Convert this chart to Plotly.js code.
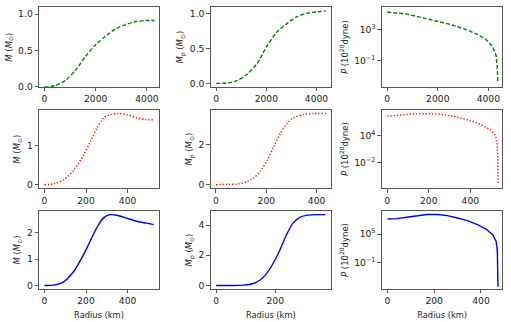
<!DOCTYPE html>
<html>
<head>
<meta charset="utf-8">
<script src="https://cdn.plot.ly/plotly-3.0.1.min.js"></script>
<style>
  html, body { margin: 0; padding: 0; background: #fff; }
  #plot { width: 511px; height: 322px; }
</style>
</head>
<body>
<div id="plot"></div>
<script>
// ---- row 1 : green dashed ----
var r1M = [0, 421, 816, 1210, 1605, 2000, 2394, 2789, 3184, 3578, 3973, 4300];
var m1 = [0, 0.02, 0.09, 0.23, 0.42, 0.58, 0.70, 0.80, 0.857, 0.90, 0.913, 0.913];
var r1Mp = [0, 436, 832, 1228, 1624, 2020, 2416, 2812, 3208, 3604, 4000, 4370];
var mp1 = [0, 0.005, 0.04, 0.13, 0.28, 0.53, 0.73, 0.85, 0.95, 1.0, 1.02, 1.035];
var r1P = [0, 374, 773, 1173, 1573, 1973, 2373, 2773, 3173, 3573, 3906, 4173, 4306, 4360, 4373];
var p1 = [1.66e5, 1.35e5, 9.1e4, 4.5e4, 2.2e4, 1.23e4, 5.5e3, 2.2e3, 810, 224, 50, 5.5, 0.45, 8.3e-3, 1.5e-4];

// ---- row 2 : red dotted ----
var r2M = [0, 45, 93, 141, 189, 221, 253, 285, 317, 357, 397, 445, 493, 525];
var m2 = [0, 0.026, 0.13, 0.37, 0.76, 1.1, 1.45, 1.71, 1.79, 1.82, 1.79, 1.71, 1.66, 1.66];
var r2Mp = [0, 44, 83, 123, 150, 176, 203, 229, 255, 282, 308, 348, 387, 437];
var mp2 = [0, 0.02, 0.03, 0.15, 0.34, 0.67, 1.21, 1.88, 2.55, 3.06, 3.34, 3.5, 3.55, 3.55];
var r2P = [0, 60, 124, 189, 254, 319, 383, 448, 497, 521, 529, 532, 534];
var p2 = [1.5e8, 2.5e8, 4.8e8, 5.6e8, 4e8, 1.5e8, 2.75e7, 2.6e6, 1.7e5, 1e4, 160, 0.19, 1.8e-7];

// ---- row 3 : blue solid ----
var r3M = [0, 43, 91, 139, 187, 219, 251, 283, 315, 347, 395, 443, 491, 525];
var m3 = [0, 0.01, 0.13, 0.51, 1.15, 1.67, 2.18, 2.56, 2.69, 2.67, 2.56, 2.44, 2.37, 2.31];
var r3Mp = [0, 48, 93, 126, 149, 171, 193, 216, 238, 260, 283, 305, 339, 370];
var mp3 = [0, 0, 0.02, 0.13, 0.36, 0.8, 1.47, 2.36, 3.36, 4.13, 4.51, 4.64, 4.69, 4.69];
var r3P = [0, 40, 83, 126, 169, 213, 256, 299, 342, 385, 421, 450, 465, 470, 472, 472.5];
var p3 = [1.5e8, 1.8e8, 3.4e8, 7.6e8, 1.26e9, 1.26e9, 7.6e8, 2.45e8, 6.6e7, 9.5e6, 1.15e6, 7.2e4, 2.8e3, 21, 6.3e-3, 8.1e-7];

var green = {color: '#008000', width: 1.4, dash: '4px,2px', shape: 'spline', smoothing: 0.8};
var red = {color: '#ff0000', width: 1.4, dash: '1.3px,1.9px', shape: 'spline', smoothing: 0.8};
var blue = {color: '#0000ff', width: 1.4, shape: 'spline', smoothing: 0.8};

function tr(x, y, line, n) {
  var l = Object.assign({}, line);
  return {x: x, y: y, mode: 'lines', line: l, xaxis: 'x' + n, yaxis: 'y' + n,
          hoverinfo: 'skip', showlegend: false};
}
// pressure curves drop hard at the surface, spline would overshoot there
function lin(line) { var l = Object.assign({}, line); l.shape = 'linear'; return l; }

var data = [
  tr(r1M, m1, green, 1), tr(r1Mp, mp1, green, 2), tr(r1P, p1, lin(green), 3),
  tr(r2M, m2, red, 4), tr(r2Mp, mp2, red, 5), tr(r2P, p2, lin(red), 6),
  tr(r3M, m3, blue, 7), tr(r3Mp, mp3, blue, 8), tr(r3P, p3, lin(blue), 9)
];

var cols = [[0.0763, 0.3112], [0.4123, 0.6477], [0.747, 0.9834]];
var rows = [[0.7298, 0.9773], [0.4152, 0.6584], [0.1025, 0.3447]];
var font = {family: 'DejaVu Sans', size: 9.2, color: '#222'};

function ax(extra) {
  var a = {showline: true, mirror: true, linecolor: '#444', linewidth: 0.9,
           ticks: 'outside', ticklen: 3.5, tickwidth: 0.9, tickcolor: '#444',
           showgrid: false, zeroline: false, tickfont: font};
  return Object.assign(a, extra);
}

var mTitle = '<i>M</i> (<i>M</i><sub>⊙</sub>)';
var mpTitle = '<i>M</i><sub><i>p</i></sub> (<i>M</i><sub>⊙</sub>)';
var pTitle = '<i>P</i> (10<sup>20</sup>dyne)';
var tFont = {family: 'DejaVu Sans', size: 8.5, color: '#222'};
var rTitle = {text: 'Radius (km)', font: {family: 'DejaVu Sans', size: 8.3, color: '#222'}, standoff: 6};
function yt(t) { return {text: t, font: tFont, standoff: 4}; }

var layout = {
  width: 511, height: 322,
  margin: {l: 0, r: 0, t: 0, b: 0},
  paper_bgcolor: '#fff', plot_bgcolor: '#fff',
  showlegend: false,

  xaxis: ax({domain: cols[0], anchor: 'y', range: [-213, 4473], dtick: 2000}),
  yaxis: ax({domain: rows[0], anchor: 'x', range: [0, 1.094], dtick: 0.5, tickformat: '.1f', title: yt(mTitle)}),
  xaxis2: ax({domain: cols[1], anchor: 'y2', range: [-218, 4578], dtick: 2000}),
  yaxis2: ax({domain: rows[0], anchor: 'x2', range: [-0.052, 1.086], dtick: 0.5, tickformat: '.1f', title: yt(mpTitle)}),
  xaxis3: ax({domain: cols[2], anchor: 'y3', range: [-218, 4560], dtick: 2000}),
  yaxis3: ax({domain: rows[0], anchor: 'x3', type: 'log', range: [-4.39, 5.83],
              tickvals: [0.1, 1000], ticktext: ['10<sup>−1</sup>', '10<sup>3</sup>'], title: yt(pTitle)}),

  xaxis4: ax({domain: cols[0], anchor: 'y4', range: [-26, 551], dtick: 200}),
  yaxis4: ax({domain: rows[1], anchor: 'x4', range: [-0.09, 1.91], dtick: 1, title: yt(mTitle)}),
  xaxis5: ax({domain: cols[1], anchor: 'y5', range: [-21, 457], dtick: 200}),
  yaxis5: ax({domain: rows[1], anchor: 'x5', range: [-0.18, 3.73], dtick: 2, title: yt(mpTitle)}),
  xaxis6: ax({domain: cols[2], anchor: 'y6', range: [-26.6, 555], dtick: 200}),
  yaxis6: ax({domain: rows[1], anchor: 'x6', type: 'log', range: [-7.6, 9.55],
              tickvals: [0.01, 10000], ticktext: ['10<sup>−2</sup>', '10<sup>4</sup>'], title: yt(pTitle)}),

  xaxis7: ax({domain: cols[0], anchor: 'y7', range: [-26, 551], dtick: 200, title: rTitle}),
  yaxis7: ax({domain: rows[2], anchor: 'x7', range: [-0.135, 2.83], dtick: 1, title: yt(mTitle)}),
  xaxis8: ax({domain: cols[1], anchor: 'y8', range: [-18.5, 388.5], dtick: 200, title: rTitle}),
  yaxis8: ax({domain: rows[2], anchor: 'x8', range: [-0.235, 4.93], dtick: 2, title: yt(mpTitle)}),
  xaxis9: ax({domain: cols[2], anchor: 'y9', range: [-24.3, 492], dtick: 200, title: rTitle}),
  yaxis9: ax({domain: rows[2], anchor: 'x9', type: 'log', range: [-6.55, 9.85],
              tickvals: [0.1, 100000], ticktext: ['10<sup>−1</sup>', '10<sup>5</sup>'], title: yt(pTitle)})
};

Plotly.newPlot('plot', data, layout, {staticPlot: true, displayModeBar: false});
</script>
</body>
</html>
